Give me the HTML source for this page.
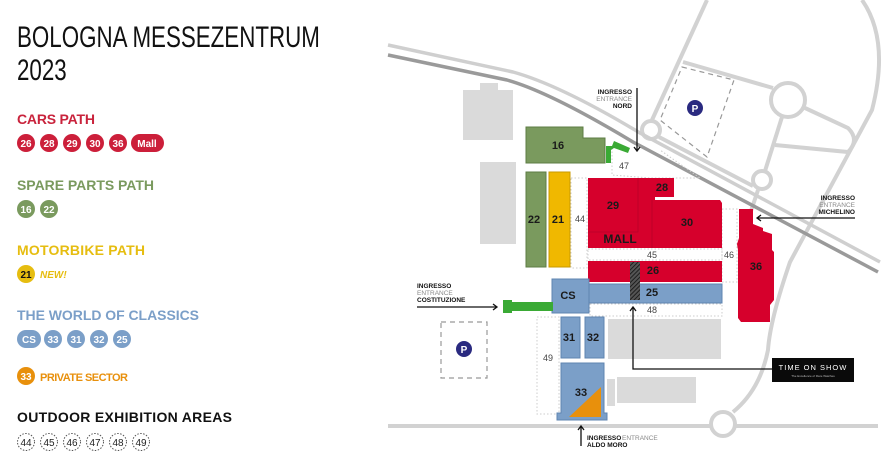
<!DOCTYPE html>
<html><head><meta charset="utf-8"><style>
html,body{margin:0;padding:0;background:#fff;width:886px;height:466px;overflow:hidden}
svg{display:block}
text{font-family:"Liberation Sans",sans-serif}
</style></head><body>
<svg width="886" height="466" viewBox="0 0 886 466" xmlns="http://www.w3.org/2000/svg">
<defs>
<pattern id="hatch" width="3" height="3" patternUnits="userSpaceOnUse" patternTransform="rotate(45)">
<rect width="3" height="3" fill="#555"/><line x1="0" y1="0" x2="0" y2="3" stroke="#111" stroke-width="1.6"/>
</pattern>
</defs>
<!-- LEFT LEGEND -->
<g transform="translate(17,47) scale(0.745,1)"><text x="0" y="0" font-size="30" fill="#111">BOLOGNA MESSEZENTRUM</text></g>
<g transform="translate(17,80) scale(0.745,1)"><text x="0" y="0" font-size="30" fill="#111">2023</text></g>

<text x="17" y="124" font-size="14" font-weight="bold" fill="#c9233c" textLength="78">CARS PATH</text>
<g fill="#cc1f3a"><circle cx="26" cy="143" r="9"/><circle cx="49" cy="143" r="9"/><circle cx="72" cy="143" r="9"/><circle cx="95" cy="143" r="9"/><circle cx="118" cy="143" r="9"/><rect x="131" y="134" width="33" height="18" rx="9"/></g>
<g fill="#fff" font-size="10" font-weight="bold" text-anchor="middle"><text x="26" y="147">26</text><text x="49" y="147">28</text><text x="72" y="147">29</text><text x="95" y="147">30</text><text x="118" y="147">36</text><text x="147" y="147">Mall</text></g>

<text x="17" y="190" font-size="14" font-weight="bold" fill="#7a9a5e" textLength="137">SPARE PARTS PATH</text>
<g fill="#7a9a5e"><circle cx="26" cy="209" r="9"/><circle cx="49" cy="209" r="9"/></g>
<g fill="#fff" font-size="10" font-weight="bold" text-anchor="middle"><text x="26" y="213">16</text><text x="49" y="213">22</text></g>

<text x="17" y="255" font-size="14" font-weight="bold" fill="#e6bd10" textLength="128">MOTORBIKE PATH</text>
<circle cx="26" cy="274" r="9" fill="#e6bd10"/>
<text x="26" y="278" font-size="10" font-weight="bold" text-anchor="middle" fill="#111">21</text>
<text x="40" y="278" font-size="10" font-weight="bold" font-style="italic" fill="#e6bd10">NEW!</text>

<text x="17" y="320" font-size="14" font-weight="bold" fill="#7b9fc8" textLength="182">THE WORLD OF CLASSICS</text>
<g fill="#7b9fc8"><rect x="17" y="330" width="24" height="18" rx="9"/><circle cx="53" cy="339" r="9"/><circle cx="76" cy="339" r="9"/><circle cx="99" cy="339" r="9"/><circle cx="122" cy="339" r="9"/></g>
<g fill="#fff" font-size="10" font-weight="bold" text-anchor="middle"><text x="29" y="343">CS</text><text x="53" y="343">33</text><text x="76" y="343">31</text><text x="99" y="343">32</text><text x="122" y="343">25</text></g>

<circle cx="26" cy="376" r="9" fill="#e8900c"/>
<text x="26" y="380" font-size="10" font-weight="bold" text-anchor="middle" fill="#fff">33</text>
<text x="40" y="381" font-size="11" font-weight="bold" fill="#e8900c" textLength="88">PRIVATE SECTOR</text>

<text x="17" y="422" font-size="14" font-weight="bold" fill="#111" textLength="215">OUTDOOR EXHIBITION AREAS</text>
<g fill="none" stroke="#555" stroke-width="1" stroke-dasharray="1.5,1.5"><circle cx="26" cy="442" r="8.5"/><circle cx="49" cy="442" r="8.5"/><circle cx="72" cy="442" r="8.5"/><circle cx="95" cy="442" r="8.5"/><circle cx="118" cy="442" r="8.5"/><circle cx="141" cy="442" r="8.5"/></g>
<g fill="#222" font-size="10" text-anchor="middle"><text x="26" y="446">44</text><text x="49" y="446">45</text><text x="72" y="446">46</text><text x="95" y="446">47</text><text x="118" y="446">48</text><text x="141" y="446">49</text></g>

<!-- MAP ROADS -->
<g fill="none" stroke="#d2d2d2" stroke-width="4">
<path d="M707,0 L652,120"/>
<circle cx="651" cy="130" r="9"/>
<path d="M683,62 L773,88"/>
<circle cx="788" cy="100" r="17"/>
<path d="M805,108 L848,128 Q860,140 848,152 L775,145"/>
<path d="M782,117 L765,171"/>
<circle cx="762" cy="180" r="9"/>
<path d="M758,190 L743,235"/>
<path d="M659,137 L753,186"/>
<path d="M862,0 Q890,40 872,110 L790,262 Q770,320 768,350 Q760,390 733,412"/>
<path d="M388,426 L711,426 M735,426 L878,426"/>
<circle cx="723" cy="424" r="12"/>
</g>
<path d="M388,45 L513,72 Q560,85 640,133 L880,262" fill="none" stroke="#cfcfcf" stroke-width="3.5"/>
<path d="M388,55 L507,80 Q550,92 633,142 L878,272" fill="none" stroke="#9a9a9a" stroke-width="3.5"/>

<!-- parking -->
<polygon points="682,67 734,80 707,157 660,120" fill="none" stroke="#999" stroke-width="1.2" stroke-dasharray="5,4"/>
<circle cx="695" cy="108" r="8" fill="#2a2a80"/><text x="695" y="112" font-size="10" font-weight="bold" fill="#fff" text-anchor="middle">P</text>
<rect x="441" y="322" width="46" height="56" fill="none" stroke="#999" stroke-width="1.2" stroke-dasharray="5,4"/>
<circle cx="464" cy="349" r="8" fill="#2a2a80"/><text x="464" y="353" font-size="10" font-weight="bold" fill="#fff" text-anchor="middle">P</text>

<!-- gray buildings -->
<g fill="#dadada">
<path d="M463,90 L480,90 L480,83 L498,83 L498,90 L513,90 L513,140 L463,140 Z"/>
<rect x="480" y="162" width="36" height="82"/>
<rect x="608" y="319" width="113" height="40"/>
<rect x="617" y="377" width="79" height="26"/>
<rect x="607" y="379" width="8" height="27"/>
</g>

<!-- dotted outdoor areas -->
<g fill="none" stroke="#ccc" stroke-width="1" stroke-dasharray="1.5,2">
<path d="M612,148 L612,175 L650,178 L700,178 L660,150"/>
<rect x="571" y="178" width="16" height="90"/>
<rect x="588" y="249" width="134" height="11"/>
<rect x="722" y="209" width="15" height="73"/>
<rect x="590" y="304" width="132" height="12"/>
<rect x="537" y="317" width="22" height="97"/>
</g>

<!-- green buildings -->
<path d="M526,127 L583,127 L583,138 L605,138 L605,163 L526,163 Z" fill="#7a9a5e" stroke="#5e7c44" stroke-width="1"/>
<path d="M606,163 L606,146 L612,146 L614,141 L630,148 L628,153 L614,148 L611,150 L611,163 Z" fill="#3aaa35"/>
<rect x="526" y="172" width="20" height="95" fill="#7a9a5e" stroke="#5e7c44" stroke-width="1"/>
<rect x="549" y="172" width="21" height="95" fill="#f0b800" stroke="#c99a00" stroke-width="1"/>

<!-- red -->
<path d="M588,178 L674,178 L674,197 L655,197 L655,200 L720,200 L722,203 L722,248 L588,248 Z" fill="#d6002c"/>
<g stroke="#b8002a" stroke-width="0.8" fill="none"><path d="M638,178 L638,232 L588,232 M652,200 L652,248"/></g>
<rect x="588" y="261" width="134" height="21" fill="#d6002c"/>
<path d="M739,209 L753,209 L753,224 L763,228 L763,231 L772,234 L772,250 L774,252 L774,300 L770,305 L770,322 L741,322 L738,318 L738,250 L737,244 L739,238 Z" fill="#d6002c"/>

<!-- blue -->
<rect x="588" y="284" width="134" height="19" fill="#7b9fc8" stroke="#5f84b0" stroke-width="1"/>
<rect x="552" y="279" width="37" height="34" fill="#7b9fc8" stroke="#5f84b0" stroke-width="1"/>
<rect x="630" y="262" width="10" height="38" fill="url(#hatch)"/>
<path d="M503,300 L512,300 L512,302 L553,302 L553,311 L512,311 L512,313 L503,313 Z" fill="#3aaa35"/>
<rect x="561" y="317" width="19" height="41" fill="#7b9fc8" stroke="#5f84b0" stroke-width="1"/>
<rect x="585" y="317" width="19" height="41" fill="#7b9fc8" stroke="#5f84b0" stroke-width="1"/>
<path d="M561,363 L604,363 L604,413 L607,413 L607,420 L557,420 L557,413 L561,413 Z" fill="#7b9fc8" stroke="#5f84b0" stroke-width="1"/>
<polygon points="569,417 601,387 601,417" fill="#e8900c"/>

<!-- labels -->
<g font-size="11" font-weight="bold" fill="#1a1a1a" text-anchor="middle">
<text x="558" y="149">16</text><text x="534" y="223">22</text><text x="558" y="223">21</text>
<text x="613" y="209">29</text><text x="662" y="191">28</text><text x="687" y="226">30</text><text x="620" y="243" font-size="12">MALL</text>
<text x="653" y="274">26</text><text x="652" y="296">25</text><text x="568" y="299">CS</text><text x="756" y="270">36</text>
<text x="569" y="341">31</text><text x="593" y="341">32</text><text x="581" y="396">33</text>
</g>
<g font-size="9" fill="#444" text-anchor="middle">
<text x="624" y="169">47</text><text x="580" y="222">44</text><text x="652" y="258">45</text><text x="729" y="258">46</text><text x="652" y="313">48</text><text x="548" y="361">49</text>
</g>

<!-- entrances -->
<g stroke="#111" stroke-width="1.3" fill="none">
<path d="M637,88 L637,151 M634,147 L637,151 L640,147"/>
<path d="M855,218 L757,218 M761,215 L757,218 L761,221"/>
<path d="M417,307 L497,307 M493,304 L497,307 L493,310"/>
<path d="M581,446 L581,426 M578,430 L581,426 L584,430"/>
<path d="M633,307 L633,369 L772,369 M630,311 L633,307 L636,311"/>
</g>
<g font-size="6.5" font-weight="bold">
<text x="632" y="94" text-anchor="end" fill="#111">INGRESSO</text>
<text x="632" y="101" text-anchor="end" fill="#888" font-weight="normal">ENTRANCE</text>
<text x="632" y="108" text-anchor="end" fill="#111">NORD</text>
<text x="855" y="200" text-anchor="end" fill="#111">INGRESSO</text>
<text x="855" y="207" text-anchor="end" fill="#888" font-weight="normal">ENTRANCE</text>
<text x="855" y="214" text-anchor="end" fill="#111">MICHELINO</text>
<text x="417" y="288" fill="#111">INGRESSO</text>
<text x="417" y="295" fill="#888" font-weight="normal">ENTRANCE</text>
<text x="417" y="302" fill="#111">COSTITUZIONE</text>
<text x="587" y="440" fill="#111">INGRESSO</text>
<text x="622" y="440" fill="#888" font-weight="normal">ENTRANCE</text>
<text x="587" y="447" fill="#111">ALDO MORO</text>
</g>
<rect x="772" y="358" width="82" height="24" fill="#0a0a0a"/>
<text x="813" y="370" font-family="Liberation Serif,serif" font-size="7.5" fill="#fff" text-anchor="middle" letter-spacing="1">TIME ON SHOW</text>
<text x="813" y="377" font-family="Liberation Serif,serif" font-size="3" fill="#bbb" text-anchor="middle">The Excellence of Rare Watches</text>
</svg>
</body></html>
